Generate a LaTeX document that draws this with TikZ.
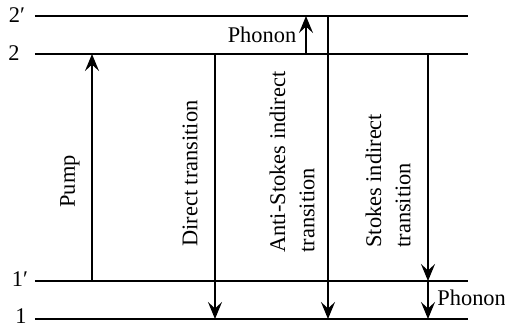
\documentclass[tikz,border=0pt]{standalone}
\usepackage{fontspec}
\setmainfont{Liberation Serif}
\usetikzlibrary{arrows.meta}
\begin{document}
\begin{tikzpicture}[x=0.5pt,y=-0.5pt,
  level/.style={line width=1.1pt},
  trans/.style={line width=0.7pt},
  tip/.style={-{Stealth[length=8.5pt,width=7pt,inset=3.2pt]}},
  lbl/.style={font=\fontsize{11.2}{14.6}\selectfont, inner sep=0pt},
  vlbl/.style={lbl, rotate=90, anchor=west, align=left}]
\useasboundingbox (0,0) rectangle (505,329);

% energy levels
\coordinate (L2pW) at (35,16);  \coordinate (L2pE) at (468,16);
\coordinate (L2W)  at (35,54);  \coordinate (L2E)  at (468,54);
\coordinate (L1pW) at (35,281); \coordinate (L1pE) at (468,281);
\coordinate (L1W)  at (35,319); \coordinate (L1E)  at (468,319);
\draw[level] (L2pW) -- (L2pE);
\draw[level] (L2W)  -- (L2E);
\draw[level] (L1pW) -- (L1pE);
\draw[level] (L1W)  -- (L1E);

% level labels
\node[lbl] (n2p) at (17,15)  {2′};
\node[lbl] (n2)  at (14,53)  {2};
\node[lbl] (n1p) at (20,279) {1′};
\node[lbl] (n1)  at (21,316) {1};

% transition end points
\coordinate (pumpA)  at (92,281);  \coordinate (pumpB)  at (92,54);
\coordinate (dirA)   at (215,54);  \coordinate (dirB)   at (215,319);
\coordinate (phA)    at (306,54);  \coordinate (phB)    at (306,16);
\coordinate (asA)    at (328,16);  \coordinate (asB)    at (328,319);
\coordinate (stA)    at (428,54);  \coordinate (stB)    at (428,281);
\coordinate (stC)    at (428,319);

% transitions
\draw[trans,tip] (pumpA) -- (pumpB);
\draw[trans,tip] (dirA) -- (dirB);
\draw[trans,tip] (phA) -- (phB);
\draw[trans,tip] (asA) -- (asB);
\draw[trans,tip] (stA) -- (stB);
\draw[trans,tip] (stB) -- (stC);

% transition labels
\node[vlbl] (tPump) at (70,208)  {Pump};
\node[vlbl] (tDir)  at (190,247) {Direct transition};
\node[vlbl] (tAS)   at (292,253) {Anti-Stokes indirect\\transition};
\node[vlbl] (tSt)   at (388,248) {Stokes indirect\\transition};
\node[lbl] (tPh1) at (262,35) {Phonon};
\node[lbl, anchor=west] (tPh2) at (437,298) {Phonon};
\end{tikzpicture}
\end{document}
